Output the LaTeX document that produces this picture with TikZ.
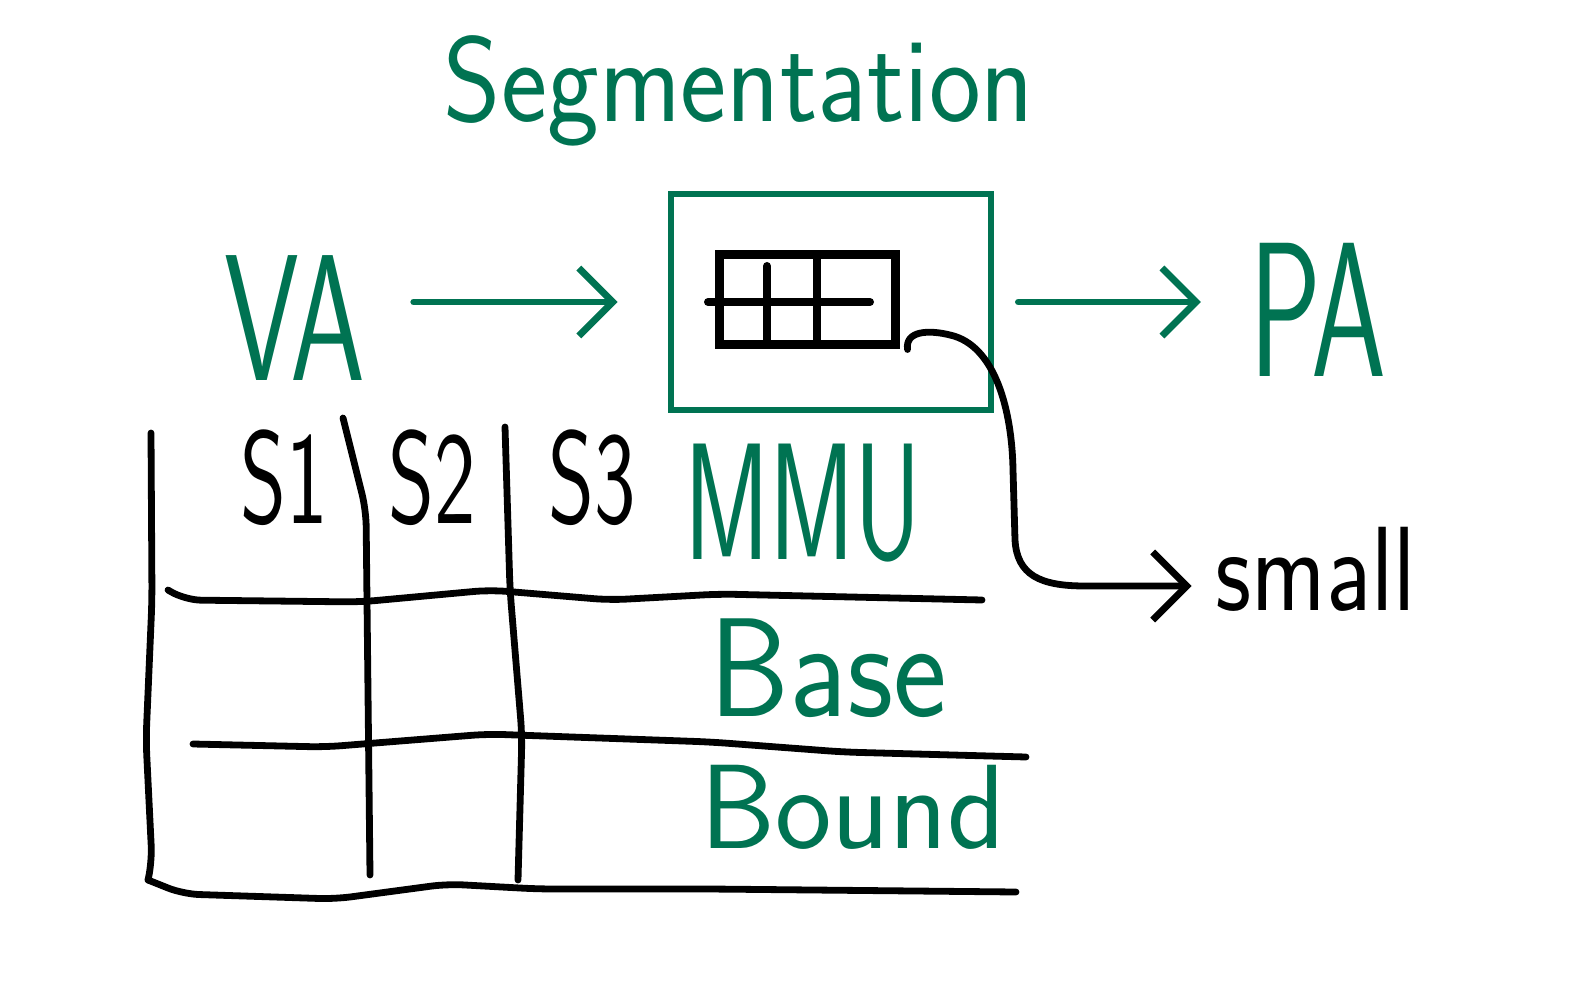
\documentclass[tikz,border=0pt]{standalone}
\usepackage{fontspec}
\usepackage{graphicx}
\usetikzlibrary{arrows.meta,positioning}
\definecolor{ink}{RGB}{0,115,82}
\newcommand{\hand}[2]{\scalebox{1}[#1]{#2}}% #1 = vertical stretch, #2 = text

\begin{document}
\begin{tikzpicture}[
  x=0.5pt, y=-0.5pt,
  >={Straight Barb[length=17pt,width=34pt]},
  pen/.style={line width=3.4pt, line cap=round, line join=round},
  gpen/.style={pen, draw=ink},
  word/.style={font=\sffamily\fontsize{#1}{#1}\selectfont, inner sep=0pt, anchor=base},
  gword/.style={word=#1, text=ink},
]
  \useasboundingbox (0,0) rectangle (1593,999);

  % ---------------- VA -> MMU -> PA
  \node[gword=55] (title) at (739,122) {\hand{1.1}{Segmentation}};
  \node[gword=60] (va) at (295,381) {\hand{1.5}{VA}};
  \node[gword=60] (pa) at (1318,377) {\hand{1.6}{PA}};
  \node[draw=ink, line width=3.4pt, minimum width=160pt, minimum height=108pt] (mmu) at (831,302) {};
  \node[draw, line width=4.5pt, minimum width=88pt, minimum height=45pt] (tbl) at (807,300) {};
  \draw[pen, line width=4pt] (708,302) -- (870,302);
  \foreach \x/\t in {767/266, 817/257} \draw[pen, line width=4pt] (\x,\t) -- (\x,343);
  \draw[gpen, ->, shorten <=24pt, shorten >=25pt] (va.east |- mmu.west) -- (mmu.west);
  \draw[gpen, ->, shorten <=12pt, shorten >=24pt] (mmu.east) -- (mmu.east -| pa.west);

  % ---------------- entry of the table -> small
  \node[word=50] (small) at (1316,610) {\hand{1.2}{small}};
  \draw[pen, ->, shorten >=12pt] ([xshift=4pt]tbl.south east) .. controls (905,330) and (930,330) .. (950,335)
    .. controls (995,345) and (1012,410) .. (1013,470) -- (1015,540)
    .. controls (1017,575) and (1040,586) .. (1085,586) -- ([yshift=12pt]small.base west);

  % ---------------- segment table
  \draw[pen, rounded corners=8pt] (151,433) -- (152,600) -- (146,740) -- (152,862) -- (148,880);
  \draw[pen, rounded corners=8pt] (343,418) -- (366,510) -- (370,875);
  \draw[pen, rounded corners=8pt] (505,427) -- (510,590) -- (522,735) -- (518,880);
  \draw[pen, rounded corners=8pt] (168,590) -- (185,600) -- (360,602) -- (490,590) -- (610,600) -- (720,594) -- (982,600);
  \draw[pen, rounded corners=8pt] (193,744) -- (325,747) -- (488,734) -- (711,742) -- (843,752) -- (1026,757);
  \draw[pen, rounded corners=8pt] (148,880) -- (183,894) -- (335,899) -- (447,884) -- (538,889) -- (711,889) -- (1016,892);
  \node[word=44] (s1) at (284,523) {\hand{1.5}{S1}};
  \node[word=44] (s2) at (432,523) {\hand{1.5}{S2}};
  \node[word=44] (s3) at (592,523) {\hand{1.5}{S3}};
  \node[gword=52] (mmulbl) at (803,559) {\hand{1.6}{MMU}};
  \node[gword=64] (base) at (828,716) {\hand{1.1}{Base}};
  \node[gword=60] (bound) at (853,848) {\hand{1.0}{Bound}};
\end{tikzpicture}
\end{document}
